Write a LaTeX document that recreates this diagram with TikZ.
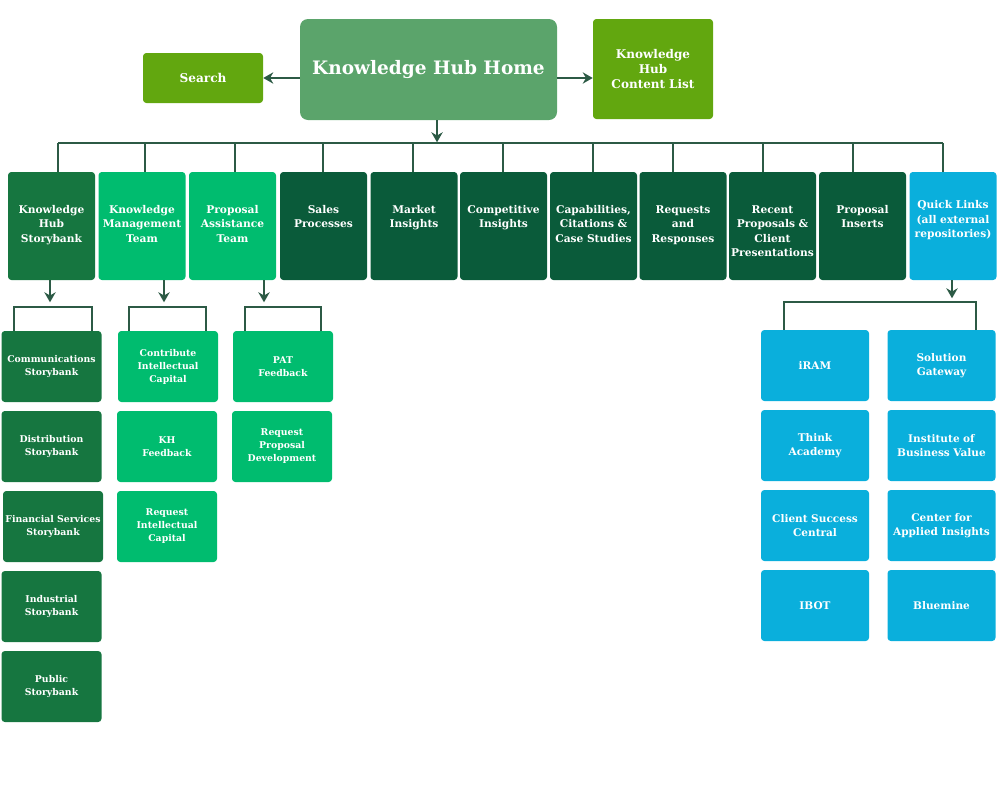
\documentclass[tikz,border=0pt]{standalone}
\usepackage{fontspec}
\setmainfont{DejaVu Serif}
\usetikzlibrary{arrows.meta}

\definecolor{homegreen}{HTML}{5BA46B}
\definecolor{limegreen}{HTML}{62A70F}
\definecolor{storygreen}{HTML}{167640}
\definecolor{brightgreen}{HTML}{00BC6F}
\definecolor{darkgreen}{HTML}{0A5B3A}
\definecolor{linkblue}{HTML}{0AAFDC}
\definecolor{wiregreen}{HTML}{2C5A45}

\begin{document}
\begin{tikzpicture}[x=0.75pt,y=-0.75pt,
    box/.style={rectangle, rounded corners=2.5pt, inner sep=0pt, align=center, text=white},
    wire/.style={draw=wiregreen, line width=1.7pt},
    arr/.style={wire, -{Stealth[length=7.5pt,width=8.5pt]}},
    toprow/.style={box, minimum width=65.25pt, minimum height=81pt, text width=65.25pt,
      text height=31pt, text depth=50pt, font=\bfseries\fontsize{8}{10.9}\selectfont},
    subbox/.style={box, minimum width=75pt, minimum height=53.25pt, text width=75pt,
      font=\bfseries\fontsize{7}{9.75}\selectfont},
    linkbox/.style={box, fill=linkblue, minimum width=81pt, minimum height=53.25pt, text width=80pt,
      font=\bfseries\fontsize{7.9}{10.5}\selectfont}]
  \useasboundingbox (0,0) rectangle (1000,800);

  % top level
  \node [box, fill=homegreen, rounded corners=6pt, minimum width=192.75pt, minimum height=75.75pt,
    font=\bfseries\fontsize{13.9}{16}\selectfont] (home) at (428.5,69.5) {Knowledge Hub Home};
  \node [box, fill=limegreen, minimum width=90pt, minimum height=37.5pt,
    font=\bfseries\fontsize{9.1}{10}\selectfont] (search) at (203,78) {Search};
  \node [box, fill=limegreen, minimum width=90pt, minimum height=75pt, text width=88pt,
    font=\bfseries\fontsize{9}{10.9}\selectfont] (content) at (653,69) {Knowledge\\Hub\\Content List};

  \draw [arr] (search.east -| home.west) -- (search.east);
  \draw [arr] (home.east |- search.east) -- (content.west |- search.east);

  % second row
  \begin{scope}[every node/.style={toprow, fill=darkgreen}]
    \node [fill=storygreen] (k1) at (51.5,226) {Knowledge\\Hub\\Storybank};
    \node [fill=brightgreen] (k2) at (142,226) {Knowledge\\Management\\Team};
    \node [fill=brightgreen] (k3) at (232.5,226) {Proposal\\Assistance\\Team};
    \node (k4) at (323.5,226) {Sales\\Processes};
    \node (k5) at (414,226) {Market\\Insights};
    \node (k6) at (503.5,226) {Competitive\\Insights};
    \node (k7) at (593.5,226) {Capabilities,\\Citations \&\\Case~Studies};
    \node (k8) at (683,226) {Requests\\and\\Responses};
    \node (k9) at (772.5,226) {Recent\\Proposals~\&\\Client\\Presentations};
    \node (k10) at (862.5,226) {Proposal\\Inserts};
    \node [fill=linkblue, text height=27.5pt, text depth=53.5pt] (k11) at (953,226) {Quick~Links\\(all~external\\repositories)};
  \end{scope}

  \foreach \i/\dx in {1/6.5,2/3,3/2.5,4/-0.5,5/-1,6/-0.5,7/-0.5,8/-10,9/-9.5,10/-9.5,11/-10}
    \draw [wire] (k\i.north) ++(\dx,0) -- ++(0,-29) coordinate (d\i);
  \draw [wire] (d1) -- (d11);
  \draw [arr] ([xshift=6.4pt]home.south) -- ++(0,22);

  % storybanks
  \begin{scope}[every node/.style={subbox, fill=storygreen}]
    \node (a1) at (51.5,366.5) {Communications\\Storybank};
    \node (a2) at (51.5,446.5) {Distribution\\Storybank};
    \node (a3) at (53,526.5) {Financial~Services\\Storybank};
    \node (a4) at (51.5,606.5) {Industrial\\Storybank};
    \node (a5) at (51.5,686.5) {Public\\Storybank};
  \end{scope}

  % teams
  \begin{scope}[every node/.style={subbox, fill=brightgreen}]
    \node (b1) at (168,366.5) {Contribute\\Intellectual\\Capital};
    \node (b2) at (167,446.5) {KH\\Feedback};
    \node (b3) at (167,526.5) {Request\\Intellectual\\Capital};
    \node (c1) at (283,366.5) {PAT\\Feedback};
    \node (c2) at (282,446.5) {Request\\Proposal\\Development};
  \end{scope}

  % quick links
  \node [linkbox] (q1) at (815,365.5) {iRAM};
  \node [linkbox] (q2) at (941.5,365.5) {Solution\\Gateway};
  \node [linkbox] (q3) at (815,445.5) {Think\\Academy};
  \node [linkbox] (q4) at (941.5,445.5) {Institute of\\Business~Value};
  \node [linkbox] (q5) at (815,525.5) {Client~Success\\Central};
  \node [linkbox] (q6) at (941.5,525.5) {Center for\\Applied~Insights};
  \node [linkbox] (q7) at (815,605.5) {IBOT};
  \node [linkbox] (q8) at (941.5,605.5) {Bluemine};

  \draw [arr] (k1.south) ++(-1.5,0) -- ++(0,22);
  \draw [arr] (k2.south) ++(22,0) -- ++(0,22);
  \draw [arr] (k3.south) ++(31.5,0) -- ++(0,22);
  \draw [arr] (k11.south) ++(-1,0) -- ++(0,18);

  \draw [wire] (a1.north west) ++(13,0) -- ++(0,-24) -| ([xshift=-7.5pt]a1.north east);
  \draw [wire] (b1.north west) ++(11,0) -- ++(0,-24) -| ([xshift=-9pt]b1.north east);
  \draw [wire] (c1.north west) ++(12,0) -- ++(0,-24) -| ([xshift=-9pt]c1.north east);
  \draw [wire] (q1.north west) ++(23,0) -- ++(0,-28) -| ([xshift=-15pt]q2.north east);
\end{tikzpicture}
\end{document}
